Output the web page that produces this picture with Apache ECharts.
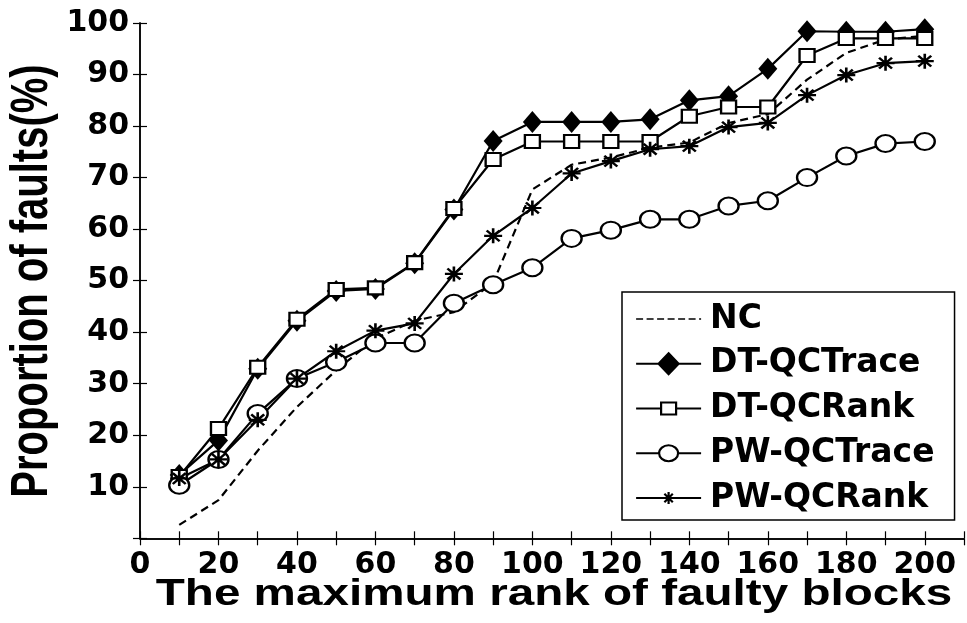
<!DOCTYPE html>
<html>
<head>
<meta charset="utf-8">
<script src="https://cdn.jsdelivr.net/npm/echarts@6/dist/echarts.min.js"></script>
<style>
  html, body { margin: 0; padding: 0; background: #fff; }
  #chart { width: 967px; height: 623px; }
</style>
</head>
<body>
<div id="chart"></div>
<script>
// Maximum rank of faulty blocks (x) and proportion of faults located (%)
const ranks = [10, 20, 30, 40, 50, 60, 70, 80, 90, 100, 110, 120, 130, 140, 150, 160, 170, 180, 190, 200];
const nc          = [2.6, 7.4, 17.0, 25.5, 32.6, 38.8, 42.2, 43.9, 49.6, 67.7, 72.5, 73.9, 75.8, 76.8, 80.6, 82.3, 89.0, 94.2, 96.8, 97.5];
const dtQCTrace   = [12.3, 19.0, 32.9, 42.2, 48.0, 48.4, 53.4, 63.8, 77.1, 80.8, 80.8, 80.8, 81.3, 85.0, 85.8, 91.1, 98.4, 98.3, 98.3, 98.8];
const dtQCRank    = [12.0, 21.3, 33.2, 42.5, 48.3, 48.6, 53.5, 64.0, 73.5, 77.0, 77.0, 77.0, 77.0, 81.9, 83.7, 83.7, 93.7, 97.0, 97.0, 97.0];
const pwQCTrace   = [10.3, 15.3, 24.2, 31.0, 34.2, 37.9, 37.9, 45.6, 49.2, 52.5, 58.2, 59.8, 61.9, 61.9, 64.5, 65.5, 70.0, 74.2, 76.6, 77.0];
const pwQCRank    = [11.6, 15.3, 23.0, 31.0, 36.3, 40.3, 41.7, 51.3, 58.7, 64.1, 70.8, 73.2, 75.5, 76.1, 79.8, 80.6, 86.0, 89.9, 92.2, 92.6];

const seriesNames = ['NC', 'DT-QCTrace', 'DT-QCRank', 'PW-QCTrace', 'PW-QCRank'];
const xTickLabels = [0, 20, 40, 60, 80, 100, 120, 140, 160, 180, 200];
const yTickLabels = [10, 20, 30, 40, 50, 60, 70, 80, 90, 100];

const pairs = vals => ranks.map((r, i) => [r, vals[i]]);

const tickFont = { fontFamily: 'DejaVu Sans', fontWeight: 'bold', fontSize: 30, color: '#000' };
const axisLine = { show: true, lineStyle: { color: '#000', width: 1.5 } };
const inTick = { show: true, inside: true, length: 7, lineStyle: { color: '#000', width: 1.2 } };

// Marker shapes
const ellipsePath = 'path://M0,-1 A1,1 0 1,1 0,1 A1,1 0 1,1 0,-1 Z';
const asteriskPath = 'path://M-1,0 L1,0 M0,-1 L0,1 M-0.72,-0.72 L0.72,0.72 M-0.72,0.72 L0.72,-0.72';

// Legend keys: line plus marker inside a 65x22 box (corner points fix the box)
const box = 'M0,0 L0,0 M65,22 L65,22 ';
const legendIcons = [
  'path://' + box + 'M0,11 L7,11 M10.5,11 L17.5,11 M21,11 L28,11 M31.5,11 L38.5,11 M42,11 L49,11 M52.5,11 L59.5,11 M63,11 L65,11',
  'path://' + box + 'M0,11 L22.5,11 M42.5,11 L65,11 M32.5,0.5 L42.5,11 L32.5,21.5 L22.5,11 Z',
  'path://' + box + 'M0,11 L25,11 M40,11 L65,11 M25,5 L40,5 L40,17 L25,17 Z',
  'path://' + box + 'M0,11 L23,11 M42,11 L65,11 M23,11 A9.5,8 0 1,1 42,11 A9.5,8 0 1,1 23,11 Z',
  'path://' + box + 'M0,11 L65,11 M32.5,5 L32.5,17 M28.3,6.8 L36.7,15.2 M28.3,15.2 L36.7,6.8'
];
const legendFills = ['#000', '#000', '#fff', '#fff', '#000'];
const legendWidths = [1.6, 2.2, 2.2, 2.2, 2.2];

const hollow = { color: '#fff', borderColor: '#000', borderWidth: 2.2 };

const chart = echarts.init(document.getElementById('chart'), null, { renderer: 'canvas' });

chart.setOption({
  animation: false,
  backgroundColor: '#fff',
  grid: { left: 140, top: 23, right: -1.4, bottom: 84.7, containLabel: false },
  xAxis: [
    {
      type: 'value', min: 0, max: 210, interval: 10,
      axisLine: axisLine, axisTick: inTick, splitLine: { show: false },
      axisLabel: Object.assign({}, tickFont, {
        margin: 12,
        formatter: v => (xTickLabels.indexOf(v) >= 0 ? String(v) : '')
      })
    },
    {
      type: 'value', position: 'top', min: 0, max: 210, interval: 10,
      axisLine: axisLine, axisTick: inTick, splitLine: { show: false },
      axisLabel: { show: false }
    }
  ],
  yAxis: [
    {
      type: 'value', min: 0, max: 100, interval: 10,
      axisLine: axisLine, axisTick: inTick, splitLine: { show: false },
      axisLabel: Object.assign({}, tickFont, {
        margin: 11,
        formatter: v => (yTickLabels.indexOf(v) >= 0 ? String(v) : '')
      })
    },
    {
      type: 'value', position: 'right', min: 0, max: 100, interval: 10,
      axisLine: axisLine, axisTick: inTick, splitLine: { show: false },
      axisLabel: { show: false }
    }
  ],
  legend: {
    orient: 'vertical',
    left: 622, top: 292,
    backgroundColor: '#fff',
    borderColor: '#000', borderWidth: 1.5, borderRadius: 0,
    padding: [10.5, 20, 5.5, 13],
    itemWidth: 65, itemHeight: 22, itemGap: 11.75,
    symbolKeepAspect: true,
    textStyle: {
      fontFamily: 'DejaVu Sans', fontWeight: 'bold', fontSize: 33, color: '#000',
      lineHeight: 33, padding: [0, 0, 0, 4]
    },
    data: seriesNames.map((name, i) => ({
      name: name,
      icon: legendIcons[i],
      itemStyle: { color: legendFills[i], borderColor: '#000', borderWidth: legendWidths[i] }
    }))
  },
  graphic: [
    {
      type: 'text', x: 33, y: 281, rotation: Math.PI / 2, scaleY: 1.28,
      style: {
        text: 'Proportion of faults(%)', fontFamily: 'Liberation Sans', fontWeight: 'bold',
        fontSize: 40, fill: '#000', textAlign: 'center', textVerticalAlign: 'middle'
      }
    },
    {
      type: 'text', x: 554, y: 595, scaleX: 1.27,
      style: {
        text: 'The maximum rank of faulty blocks', fontFamily: 'Liberation Sans', fontWeight: 'bold',
        fontSize: 37.5, fill: '#000', textAlign: 'center', textVerticalAlign: 'middle'
      }
    }
  ],
  series: [
    {
      name: seriesNames[0], type: 'line', data: pairs(nc),
      symbol: 'none', showSymbol: false,
      lineStyle: { color: '#000', width: 2.2, type: [8, 5] },
      itemStyle: { color: '#000' }
    },
    {
      name: seriesNames[1], type: 'line', data: pairs(dtQCTrace),
      symbol: 'diamond', symbolSize: [19, 22],
      lineStyle: { color: '#000', width: 2.2 },
      itemStyle: { color: '#000' }
    },
    {
      name: seriesNames[2], type: 'line', data: pairs(dtQCRank),
      symbol: 'rect', symbolSize: [15, 13],
      lineStyle: { color: '#000', width: 2.2 },
      itemStyle: hollow
    },
    {
      name: seriesNames[3], type: 'line', data: pairs(pwQCTrace),
      symbol: ellipsePath, symbolSize: [20, 17],
      lineStyle: { color: '#000', width: 2.2 },
      itemStyle: hollow
    },
    {
      name: seriesNames[4], type: 'line', data: pairs(pwQCRank),
      symbol: asteriskPath, symbolSize: [18, 15],
      lineStyle: { color: '#000', width: 2.2 },
      itemStyle: { color: '#000', borderColor: '#000', borderWidth: 2.4 }
    }
  ]
});
</script>
</body>
</html>
